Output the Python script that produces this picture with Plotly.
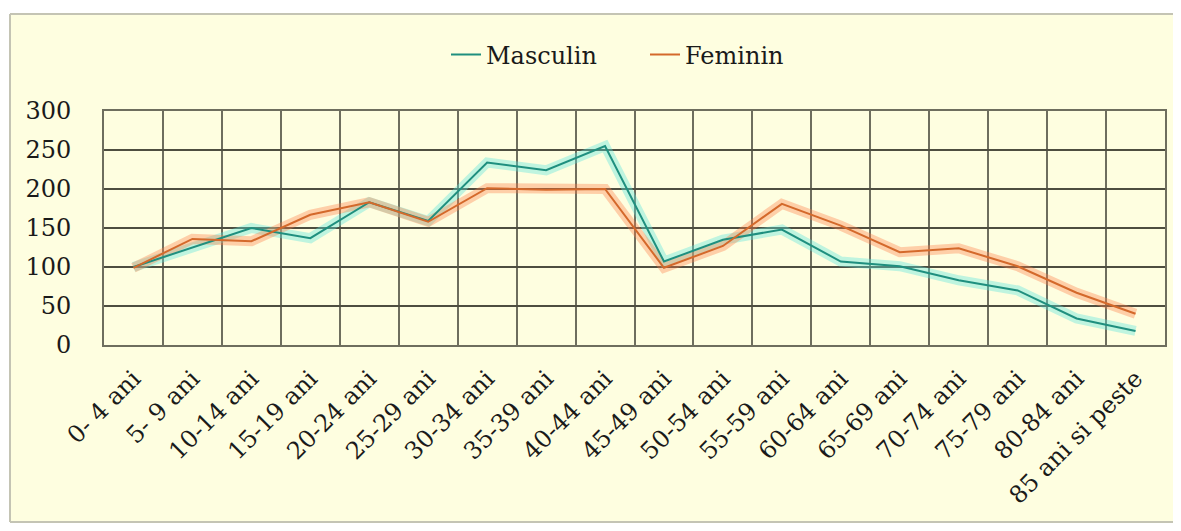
import plotly.graph_objects as go

categories = ["0- 4 ani", "5- 9 ani", "10-14 ani", "15-19 ani", "20-24 ani", "25-29 ani",
              "30-34 ani", "35-39 ani", "40-44 ani", "45-49 ani", "50-54 ani", "55-59 ani",
              "60-64 ani", "65-69 ani", "70-74 ani", "75-79 ani", "80-84 ani", "85 ani si peste"]
masculin = [100, 125, 150, 137, 183, 159, 234, 224, 255, 107, 135, 148, 107, 101, 83, 70, 34, 18]
feminin = [99, 136, 133, 167, 183, 158, 201, 199, 200, 99, 127, 181, 153, 119, 124, 101, 67, 40]
y_ticks = [0, 50, 100, 150, 200, 250, 300]

FONT = "DejaVu Serif"
OFF = 8  # page body margin
W, H = 1181 - OFF, 531 - 2 * OFF
L, T = 104 - OFF, 111 - OFF
R = W - (1165 - OFF)
B = H - (345 - OFF)
PW, PH = W - L - R, H - T - B

fig = go.Figure()

series = [
    ("Masculin", masculin, "#1f8f7f", "rgba(90,230,220,0.38)"),
    ("Feminin", feminin, "#d4692b", "rgba(255,125,70,0.36)"),
]
# soft glow under each line
for name, vals, col, glow in series:
    fig.add_trace(go.Scatter(x=categories, y=vals, mode="lines", hoverinfo="skip",
                             line=dict(color=glow, width=10), showlegend=False))
for name, vals, col, glow in series:
    fig.add_trace(go.Scatter(x=categories, y=vals, mode="lines", name=name,
                             line=dict(color=col, width=2)))

# chart frame: fill, then top / left / bottom edges
fx0, fx1 = (10 - OFF - L) / PW, (W + 20 - L) / PW
fy0, fy1 = 1 - (H - 1 - T) / PH, 1 + (T - (14 - OFF)) / PH
fig.add_shape(type="rect", xref="paper", yref="paper", x0=fx0, x1=fx1, y0=fy0, y1=fy1,
              fillcolor="#fefee0", line=dict(width=0), layer="below")
for x0, y0, x1, y1 in [(fx0, fy1, fx1, fy1), (fx0, fy0, fx0, fy1), (fx0, fy0, fx1, fy0)]:
    fig.add_shape(type="line", xref="paper", yref="paper", x0=x0, y0=y0, x1=x1, y1=y1,
                  line=dict(color="#c4c4b4", width=2), layer="below")

fig.update_xaxes(type="category", range=[-0.5, len(categories) - 0.5],
                 tickson="boundaries", showgrid=True, gridcolor="#6e6e5e", gridwidth=1.5,
                 showline=True, linecolor="#6e6e5e", linewidth=2, mirror=True,
                 ticks="", tickangle=-45, ticklabelstandoff=8,
                 tickfont=dict(family=FONT, size=24, color="#1a1a1a"))
fig.update_yaxes(range=[0, 300], tickvals=y_ticks, showgrid=True, gridcolor="#4e4e40",
                 gridwidth=1.5, zeroline=False, showline=True, linecolor="#6e6e5e",
                 linewidth=2, mirror=True, ticks="", ticklabelstandoff=26,
                 tickfont=dict(family=FONT, size=24, color="#1a1a1a"))

fig.update_layout(
    width=W, height=H,
    margin=dict(l=L, r=R, t=T, b=B),
    paper_bgcolor="white", plot_bgcolor="#fefee0",
    font=dict(family=FONT, size=24, color="#1a1a1a"),
    legend=dict(orientation="h", x=(446 - OFF - L) / PW, xanchor="left",
                y=1 + (T - (55 - OFF)) / PH, yanchor="middle",
                entrywidth=154, entrywidthmode="pixels",
                bgcolor="rgba(0,0,0,0)", font=dict(family=FONT, size=24)),
)

fig.write_html("out.html")
